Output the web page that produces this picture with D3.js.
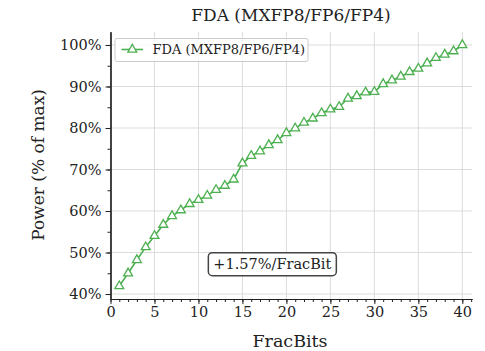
<!DOCTYPE html>
<html>
<head>
<meta charset="utf-8">
<script src="https://cdn.jsdelivr.net/npm/d3@7"></script>
<style>
  body { margin: 0; background: #fff; }
  text { font-family: "DejaVu Serif", serif; fill: #222; }
</style>
</head>
<body>
<svg id="chart" width="485" height="351"></svg>
<script>
// data
const fracBits = d3.range(1, 41);
const power = [41.9, 45.0, 48.2, 51.3, 54.0, 56.7, 58.8, 60.2, 61.7, 62.7,
               63.7, 65.1, 66.1, 67.6, 71.5, 73.3, 74.4, 75.9, 77.1, 78.8,
               79.9, 81.3, 82.3, 83.6, 84.5, 85.1, 87.1, 87.7, 88.6, 88.7,
               90.6, 91.5, 92.4, 93.5, 94.3, 95.6, 96.9, 97.7, 98.5, 100.0];
const xTicks = [0, 5, 10, 15, 20, 25, 30, 35, 40];
const yTicks = [40, 50, 60, 70, 80, 90, 100];
const seriesName = "FDA (MXFP8/FP6/FP4)";
const slopeLabel = "+1.57%/FracBit";

const svg = d3.select("#chart");
const green = "#4caf50";

const plotL = 110.5, plotR = 472, plotT = 31.7, plotB = 299;

let x = d3.scaleLinear().domain([0, 41.1]).range([plotL, plotR]);
let y = d3.scaleLinear().domain([38.8, 103.2]).range([plotB, plotT]);

// grid
svg.append("g").selectAll("line").data(xTicks).enter().append("line")
  .attr("x1", d => x(d)).attr("x2", d => x(d))
  .attr("y1", plotT).attr("y2", plotB)
  .attr("stroke", "#dcdcdc").attr("stroke-width", 1);
svg.append("g").selectAll("line").data(yTicks).enter().append("line")
  .attr("x1", plotL).attr("x2", plotR)
  .attr("y1", d => y(d)).attr("y2", d => y(d))
  .attr("stroke", "#dcdcdc").attr("stroke-width", 1);

// axes
svg.append("g").attr("transform", `translate(0,${plotB})`)
  .call(d3.axisBottom(x).tickValues(xTicks).tickSize(5).tickPadding(3).tickSizeOuter(0));
svg.append("g").attr("transform", `translate(0,${plotB})`)
  .call(d3.axisBottom(x).tickValues(d3.range(0, 42)).tickSize(3).tickFormat("").tickSizeOuter(0));
svg.append("g").attr("transform", `translate(${plotL},0)`)
  .call(d3.axisLeft(y).tickValues(yTicks).tickSize(5).tickPadding(4)
    .tickFormat(d => d + "%").tickSizeOuter(0));
svg.append("g").attr("transform", `translate(${plotL},0)`)
  .call(d3.axisLeft(y).tickValues(d3.range(40, 105, 5)).tickSize(3).tickFormat("").tickSizeOuter(0));

svg.selectAll(".domain").attr("stroke", "#222").attr("stroke-width", 1.2);
svg.selectAll(".tick line").attr("stroke", "#222");
svg.selectAll(".tick text").style("font-family", "DejaVu Serif").style("font-size", "14.5px").attr("fill", "#222");

// line + markers
const pts = fracBits.map((b, i) => [b, power[i]]);
svg.append("path").datum(pts)
  .attr("fill", "none").attr("stroke", green).attr("stroke-width", 1.6)
  .attr("d", d3.line().x(d => x(d[0])).y(d => y(d[1])));

const tri = d3.symbol().type(d3.symbolTriangle).size(34);
svg.append("g").selectAll("path").data(pts).enter().append("path")
  .attr("d", tri)
  .attr("transform", d => `translate(${x(d[0])},${y(d[1])})`)
  .attr("fill", "#fff").attr("stroke", green).attr("stroke-width", 1.3);

// legend
let lg = svg.append("g");
lg.append("rect").attr("x", 115).attr("y", 38.5).attr("width", 193).attr("height", 23)
  .attr("rx", 2).attr("fill", "#fff").attr("fill-opacity", 0.85)
  .attr("stroke", "#cccccc");
lg.append("line").attr("x1", 121.5).attr("x2", 143).attr("y1", 49.5).attr("y2", 49.5)
  .attr("stroke", green).attr("stroke-width", 1.6);
lg.append("path").attr("d", tri).attr("transform", "translate(132.3,49.5)")
  .attr("fill", "#fff").attr("stroke", green).attr("stroke-width", 1.3);
lg.append("text").attr("x", 152.5).attr("y", 54.2)
  .style("font-size", "13px").text(seriesName);

// slope annotation
let an = svg.append("g").attr("transform", `translate(${x(18.4)},${y(47.2)})`);
an.append("rect").attr("x", -64).attr("y", -11.5).attr("width", 128).attr("height", 23)
  .attr("rx", 4).attr("fill", "#fff").attr("stroke", "#444").attr("stroke-width", 1.5);
an.append("text").attr("text-anchor", "middle").attr("y", 5.2)
  .style("font-size", "14.5px").text(slopeLabel);

// titles
svg.append("text").attr("x", 291).attr("y", 21).attr("text-anchor", "middle")
  .style("font-size", "17px").text(seriesName);
svg.append("text").attr("x", 290).attr("y", 347).attr("text-anchor", "middle")
  .style("font-size", "17.5px").text("FracBits");
svg.append("text").attr("transform", "translate(44,165) rotate(-90)")
  .attr("text-anchor", "middle").style("font-size", "17px").text("Power (% of max)");
</script>
</body>
</html>
